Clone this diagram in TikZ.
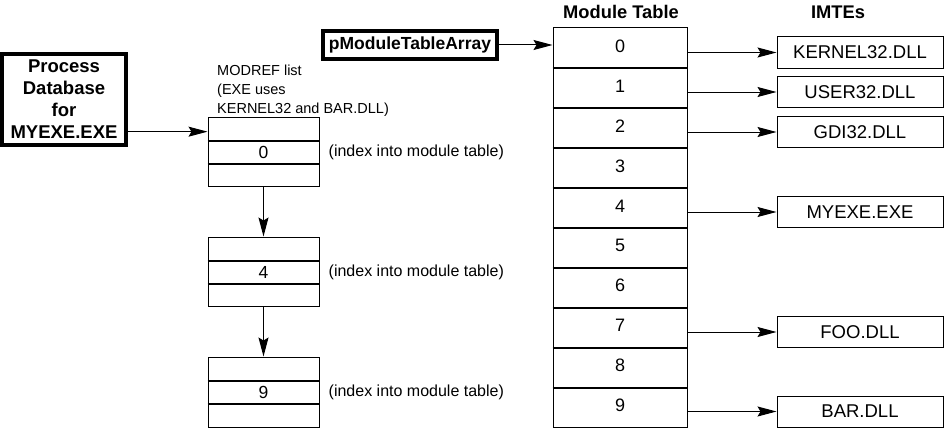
\documentclass[tikz,border=0pt]{standalone}
\usepackage{fontspec}
\setmainfont{Liberation Sans}
\usetikzlibrary{arrows.meta}
\begin{document}
\begin{tikzpicture}[x=1pt,y=-1pt,
  arr/.style={-{Stealth[length=19pt,width=10pt,inset=3pt]}, line width=1pt},
  mrow/.style={draw, line width=1pt, minimum width=134pt, minimum height=39.9pt, inner sep=0pt,
    font=\fontsize{18}{18}\selectfont, text height=13pt, text depth=4pt},
  imte/.style={draw, line width=1pt, minimum width=166pt, minimum height=31pt, inner sep=0pt,
    font=\fontsize{18.5}{19}\selectfont},
  lrow/.style={draw, line width=1pt, minimum width=111pt, minimum height=23.33pt, inner sep=0pt,
    font=\fontsize{17.5}{18}\selectfont},
  heavybox/.style={draw, line width=3.5pt, inner sep=0pt},
  divider/.style={line width=2pt},
  title/.style={font=\bfseries\fontsize{18.3}{18}\selectfont, anchor=base, inner sep=0pt},
  idx/.style={anchor=west, inner sep=0pt, font=\fontsize{16}{16}\selectfont}
]
\useasboundingbox (0,0) rectangle (944,428);

% titles
\node[title] (mt) at (621,19) {Module Table};
\node[title] (im) at (838,19) {IMTEs};

% module table
\foreach \i in {0,...,9} {
  \node[mrow] (m\i) at (620, 47.95+39.9*\i) {\i};
}
\foreach \i in {0,...,8} {
  \draw[divider] (m\i.south west) -- (m\i.south east);
}

% IMTEs
\node[imte] (k0) at (860,52.5) {KERNEL32.DLL};
\node[imte] (k1) at (860,92)   {USER32.DLL};
\node[imte] (k2) at (860,132)  {GDI32.DLL};
\node[imte] (k4) at (860,212)  {MYEXE.EXE};
\node[imte] (k7) at (860,332)  {FOO.DLL};
\node[imte] (k9) at (860,411.5) {BAR.DLL};
\foreach \i/\k in {0/k0,1/k1,2/k2,4/k4,7/k7,9/k9} {
  \draw[arr] (\k.west -| m\i.east) -- (\k.west);
}

% pModuleTableArray
\node[heavybox, minimum width=174pt, minimum height=28pt,
  font=\bfseries\fontsize{17.5}{17}\selectfont] (pm) at (410,45) {pModuleTableArray};
\draw[arr] (pm.east) -- (pm.east -| m0.west);

% Process database
\node[heavybox, minimum width=124pt, minimum height=91pt, align=center,
  font=\bfseries\fontsize{18.5}{22}\selectfont] (proc) at (64,99.5)
  {Process\\Database\\for\\MYEXE.EXE};

% MODREF label
\node[anchor=north west, inner sep=0pt, align=left,
  font=\fontsize{14.5}{19}\selectfont] (ml) at (217,65)
  {MODREF list\\(EXE uses\\KERNEL32 and BAR.DLL)};

% MODREF list boxes
\foreach \j/\t/\v in {1/117/0, 2/237/4, 3/357/9} {
  \node[lrow] (la\j) at (263.5, \t+11.67) {};
  \node[lrow] (lb\j) at (263.5, \t+35) {\v};
  \node[lrow] (lc\j) at (263.5, \t+58.33) {};
  \draw[divider] (la\j.south west) -- (la\j.south east);
  \draw[divider] (lb\j.south west) -- (lb\j.south east);
  \node[idx] (ix\j) at ([xshift=9pt]lb\j.east) {(index into module table)};
}

\coordinate (pa) at ([yshift=-3pt]la1.west);
\draw[arr] (proc.east |- pa) -- (pa);
\draw[arr] (lc1.south) -- (la2.north);
\draw[arr] (lc2.south) -- (la3.north);
\end{tikzpicture}
\end{document}
